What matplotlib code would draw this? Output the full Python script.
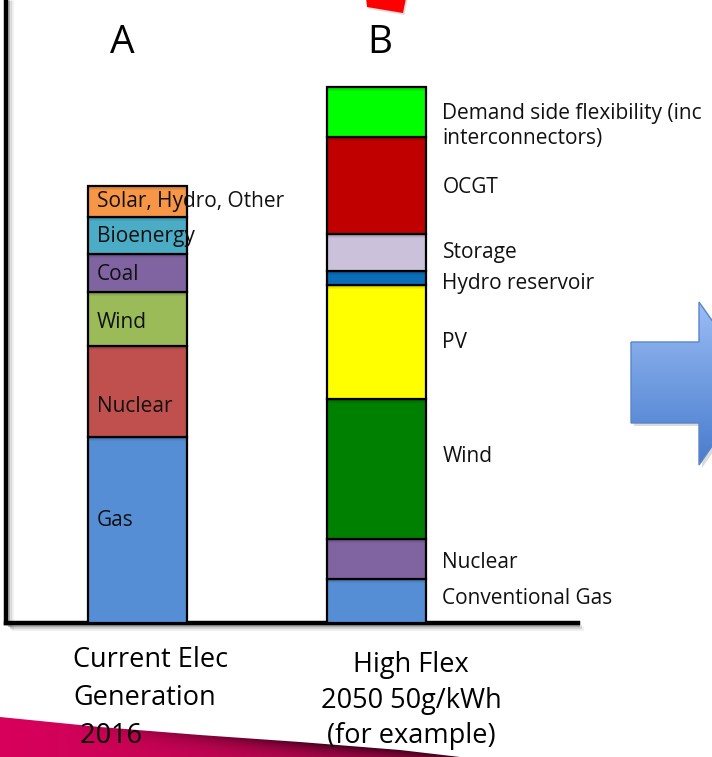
import numpy as np
import matplotlib
matplotlib.use("Agg")
import matplotlib.pyplot as plt
from matplotlib.patches import Polygon
from matplotlib.colors import LinearSegmentedColormap, to_rgb

plt.rcParams['font.family'] = ['Open Sans', 'DejaVu Sans']

# ---- data -------------------------------------------------------------
# Scenario A: current electricity generation mix, stacked bottom -> top
current_sources = ["Gas", "Nuclear", "Wind", "Coal", "Bioenergy",
                   "Solar, Hydro, Other"]
current_values = [186, 91, 54, 38, 37, 31]
current_colors = ["#558ed5", "#c0504d", "#9bbb59", "#8064a2", "#4bacc6",
                  "#f79646"]

# Scenario B: high flexibility 2050 system, stacked bottom -> top
flex_sources = ["Conventional Gas", "Nuclear", "Wind", "PV",
                "Hydro reservoir", "Storage", "OCGT",
                "Demand side flexibility (inc\ninterconnectors)"]
flex_values = [44, 40, 140, 114, 14, 37, 97, 50]
flex_colors = ["#558ed5", "#8064a2", "#008000", "#ffff00", "#0b6cb8",
               "#ccc1da", "#c00000", "#00ff00"]

bar_letters = ["A", "B"]
scenario_names = [["Current Elec", "Generation", " 2016"],
                  ["High Flex", "2050 50g/kWh", "(for example)"]]

# ---- figure -----------------------------------------------------------
W, H = 712, 757
fig = plt.figure(figsize=(W / 100, H / 100), dpi=100)
fig.patch.set_facecolor("white")


def fx(px):
    return px / W


def fy(py):
    return 1 - py / H


# decoration layer in pixel coordinates (y downward)
deco = fig.add_axes([0, 0, 1, 1], zorder=0)
deco.set_xlim(0, W)
deco.set_ylim(H, 0)
deco.axis("off")


def gradient_patch(ax, pts, colors, edge=None, z=1):
    pts = np.asarray(pts, float)
    poly = Polygon(pts, closed=True, facecolor="none",
                   edgecolor=edge if edge else "none", lw=1.0, zorder=z + 0.1)
    ax.add_patch(poly)
    x0, x1 = pts[:, 0].min(), pts[:, 0].max()
    y0, y1 = pts[:, 1].min(), pts[:, 1].max()
    cmap = LinearSegmentedColormap.from_list("g", colors)
    g = np.linspace(0, 1, 256)[:, None]
    im = ax.imshow(g, cmap=cmap, extent=(x0, x1, y1, y0), aspect="auto",
                   zorder=z, interpolation="bilinear")
    im.set_clip_path(Polygon(pts, closed=True, transform=ax.transData))
    return im


# red tile at the top
red_pts = [(366, -2), (406, -2), (403, 13), (367, 7)]
deco.add_patch(Polygon([(x + 1.5, y + 2) for x, y in red_pts], closed=True,
                       facecolor="#999999", alpha=0.35, edgecolor="none",
                       zorder=1))
deco.add_patch(Polygon(red_pts, closed=True, facecolor="#ff0000",
                       edgecolor="none", zorder=2))

# blue arrow on the right
arrow_pts = [(631, 342), (699, 342), (699, 302), (756, 383), (699, 465),
             (699, 423), (631, 423)]
deco.add_patch(Polygon([(x + 3, y + 3) for x, y in arrow_pts], closed=True,
                       facecolor="#888888", alpha=0.3, edgecolor="none",
                       zorder=1))
gradient_patch(deco, arrow_pts, ["#9bbdf5", "#6f9be0", "#4a7ccd"],
               edge="#5b86c9", z=2)

# magenta swoosh at the bottom-left, darker along its upper edge
top_x = np.array([0, 100, 200, 300, 400, 460])
top_y = np.array([717, 727, 735, 742, 750, 757])
swoosh_pts = list(zip(top_x, top_y)) + [(0, 757)]
xs = np.linspace(0, 460, 460)
ys = np.linspace(715, 757, 84)
XX, YY = np.meshgrid(xs, ys)
d = YY - np.interp(XX, top_x, top_y)
left_c = np.array(to_rgb("#d8005c"))
right_c = np.array(to_rgb("#b0084c"))
t = (XX / 460)[..., None]
base = left_c * (1 - t) + right_c * t
k = np.clip((XX - 60) / 260, 0, 1) * 0.65
shade = 1 - (k * np.exp(-np.clip(d, 0, None) / 9))[..., None]
rgb = np.clip(base * shade, 0, 1)
im = deco.imshow(rgb, extent=(0, 460, 757, 715), aspect="auto", zorder=2,
                 interpolation="bilinear")
im.set_clip_path(Polygon(swoosh_pts, closed=True, transform=deco.transData))

# ---- main chart ---------------------------------------------------------
ax_left, ax_right, ax_bottom = 6, 578, 623
ax = fig.add_axes([fx(ax_left), fy(ax_bottom), fx(ax_right - ax_left),
                   ax_bottom / H], zorder=2)
ax.patch.set_alpha(0)

centers_px = [137.5, 376.0]
unit = centers_px[1] - centers_px[0]
ax.set_xlim(-(centers_px[0] - ax_left) / unit,
            1 + (ax_right - centers_px[1]) / unit)
ax.set_ylim(0, ax_bottom)
bar_w = 99 / unit

for s in ["top", "right"]:
    ax.spines[s].set_visible(False)
for s in ["left", "bottom"]:
    ax.spines[s].set_linewidth(3.2)
    ax.spines[s].set_color("black")
ax.set_xticks([])
ax.set_yticks([])

# soft shadow beneath the axis lines
for off, a in [(2, 0.25), (4, 0.12), (6, 0.06)]:
    deco.plot([ax_left + off, ax_right + off], [ax_bottom + off, ax_bottom + off],
              color="black", alpha=a, lw=3, solid_capstyle="butt", zorder=1)
    deco.plot([ax_left + off, ax_left + off], [0, ax_bottom + off],
              color="black", alpha=a, lw=2, solid_capstyle="butt", zorder=1)

stacks = [(current_values, current_colors), (flex_values, flex_colors)]
for i, (vals, cols) in enumerate(stacks):
    bottoms = np.concatenate([[0], np.cumsum(vals)[:-1]])
    ax.bar([i] * len(vals), vals, bottom=bottoms, width=bar_w, color=cols,
           edgecolor="black", linewidth=1.6, zorder=3)
    # slight shading at the top of each segment
    for b, v in zip(bottoms, vals):
        for k_, a in enumerate([0.18, 0.10, 0.05]):
            ax.bar(i, 1.3, bottom=b + v - 1.3 * (k_ + 1), width=bar_w * 0.98,
                   color="black", alpha=a, linewidth=0, zorder=3.5)

label_size = 15

# segment labels inside bar A
a_nudge = [-9, 15, 3, 1, 1, 0]  # pixels, positive moves down
bottoms = np.concatenate([[0], np.cumsum(current_values)[:-1]])
for name, b, v, n in zip(current_sources, bottoms, current_values, a_nudge):
    ax.annotate(name, xy=(0 - bar_w / 2, b + v / 2),
                xytext=(9, -n), textcoords="offset pixels",
                ha="left", va="center", fontsize=label_size, color="#111111",
                zorder=5, annotation_clip=False)

# segment labels beside bar B
b_nudge = [-2, 4, -12, 0, 6, 0, 2, 14]
bottoms = np.concatenate([[0], np.cumsum(flex_values)[:-1]])
for name, b, v, n in zip(flex_sources, bottoms, flex_values, b_nudge):
    ax.annotate(name, xy=(1 + bar_w / 2, b + v / 2),
                xytext=(17, -n), textcoords="offset pixels",
                ha="left", va="center", fontsize=label_size, color="#111111",
                linespacing=1.3, zorder=5, annotation_clip=False)

# scenario letters above the bars
fig.text(fx(122), fy(43), bar_letters[0], ha="center", va="center",
         fontsize=28, color="black")
fig.text(fx(380), fy(43), bar_letters[1], ha="center", va="center",
         fontsize=28, color="black")

# scenario descriptions below the axis, one line at a time
for line, base_y in zip(scenario_names[0], [667, 705, 743]):
    fig.text(fx(73), fy(base_y), line, ha="left", va="baseline",
             fontsize=19.5, color="black", zorder=10)
for line, base_y in zip(scenario_names[1], [672, 708, 743]):
    fig.text(fx(411), fy(base_y), line, ha="center", va="baseline",
             fontsize=19.5, color="black", zorder=10)

fig.savefig("out.png", dpi=100, facecolor="white")
